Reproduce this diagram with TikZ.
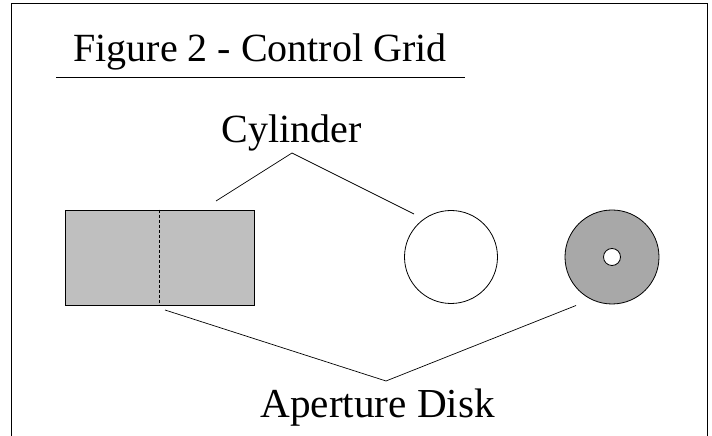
\documentclass[tikz,border=0pt]{standalone}
\usepackage{fontspec}
\setmainfont{Liberation Serif}
\usetikzlibrary{positioning}

\begin{document}
\begin{tikzpicture}[
    x=1pt, y=1pt,
    line width=0.8pt,
    caption/.style={font=\fontsize{40}{44}\selectfont, inner sep=0pt, anchor=base west},
    wire/.style={line width=0.7pt},
    plate/.style={rectangle, draw, fill=black!25, minimum width=189pt, minimum height=95pt, inner sep=0pt},
    disc/.style={circle, draw, inner sep=0pt}
]
\useasboundingbox (0,0) rectangle (712,436);

% Frame, open at the bottom
\coordinate (frameBL) at (11,0);
\coordinate (frameTL) at (11,432);
\coordinate (frameTR) at (707,432);
\coordinate (frameBR) at (707,0);
\draw[line width=1pt] (frameBL) -- (frameTL) -- (frameTR) -- (frameBR);

\node[caption] (title) at (73,374) {Figure 2 - Control Grid};
\coordinate (ruleL) at (56,359);
\coordinate (ruleR) at (465,359);
\draw[wire] (ruleL) -- (ruleR);

\node[caption] (cylinder) at (221,293) {Cylinder};
\node[caption, font=\fontsize{41.2}{44}\selectfont] (aperture) at (260,18) {Aperture Disk};

\node[plate] (grid) at (159.5,178.5) {};
\draw[densely dashed, line width=0.7pt] (grid.north) -- (grid.south);

\node[disc, fill=white, minimum size=93pt] (tube) at (451,179) {};
\node[disc, fill=black!34, minimum size=94pt] (disk) at (612,179) {};
\node[disc, fill=white, minimum size=17pt] (hole) at (disk) {};

% Cylinder leader
\coordinate (cylA) at (216,235);
\coordinate (cylB) at (292,283);
\coordinate (cylC) at (414,222);
\draw[wire] (cylA) -- (cylB) -- (cylC);

% Aperture leader
\coordinate (aptA) at (165,126);
\coordinate (aptB) at (386,55);
\coordinate (aptC) at (576,130.5);
\draw[wire] (aptA) -- (aptB) -- (aptC);

\end{tikzpicture}
\end{document}
